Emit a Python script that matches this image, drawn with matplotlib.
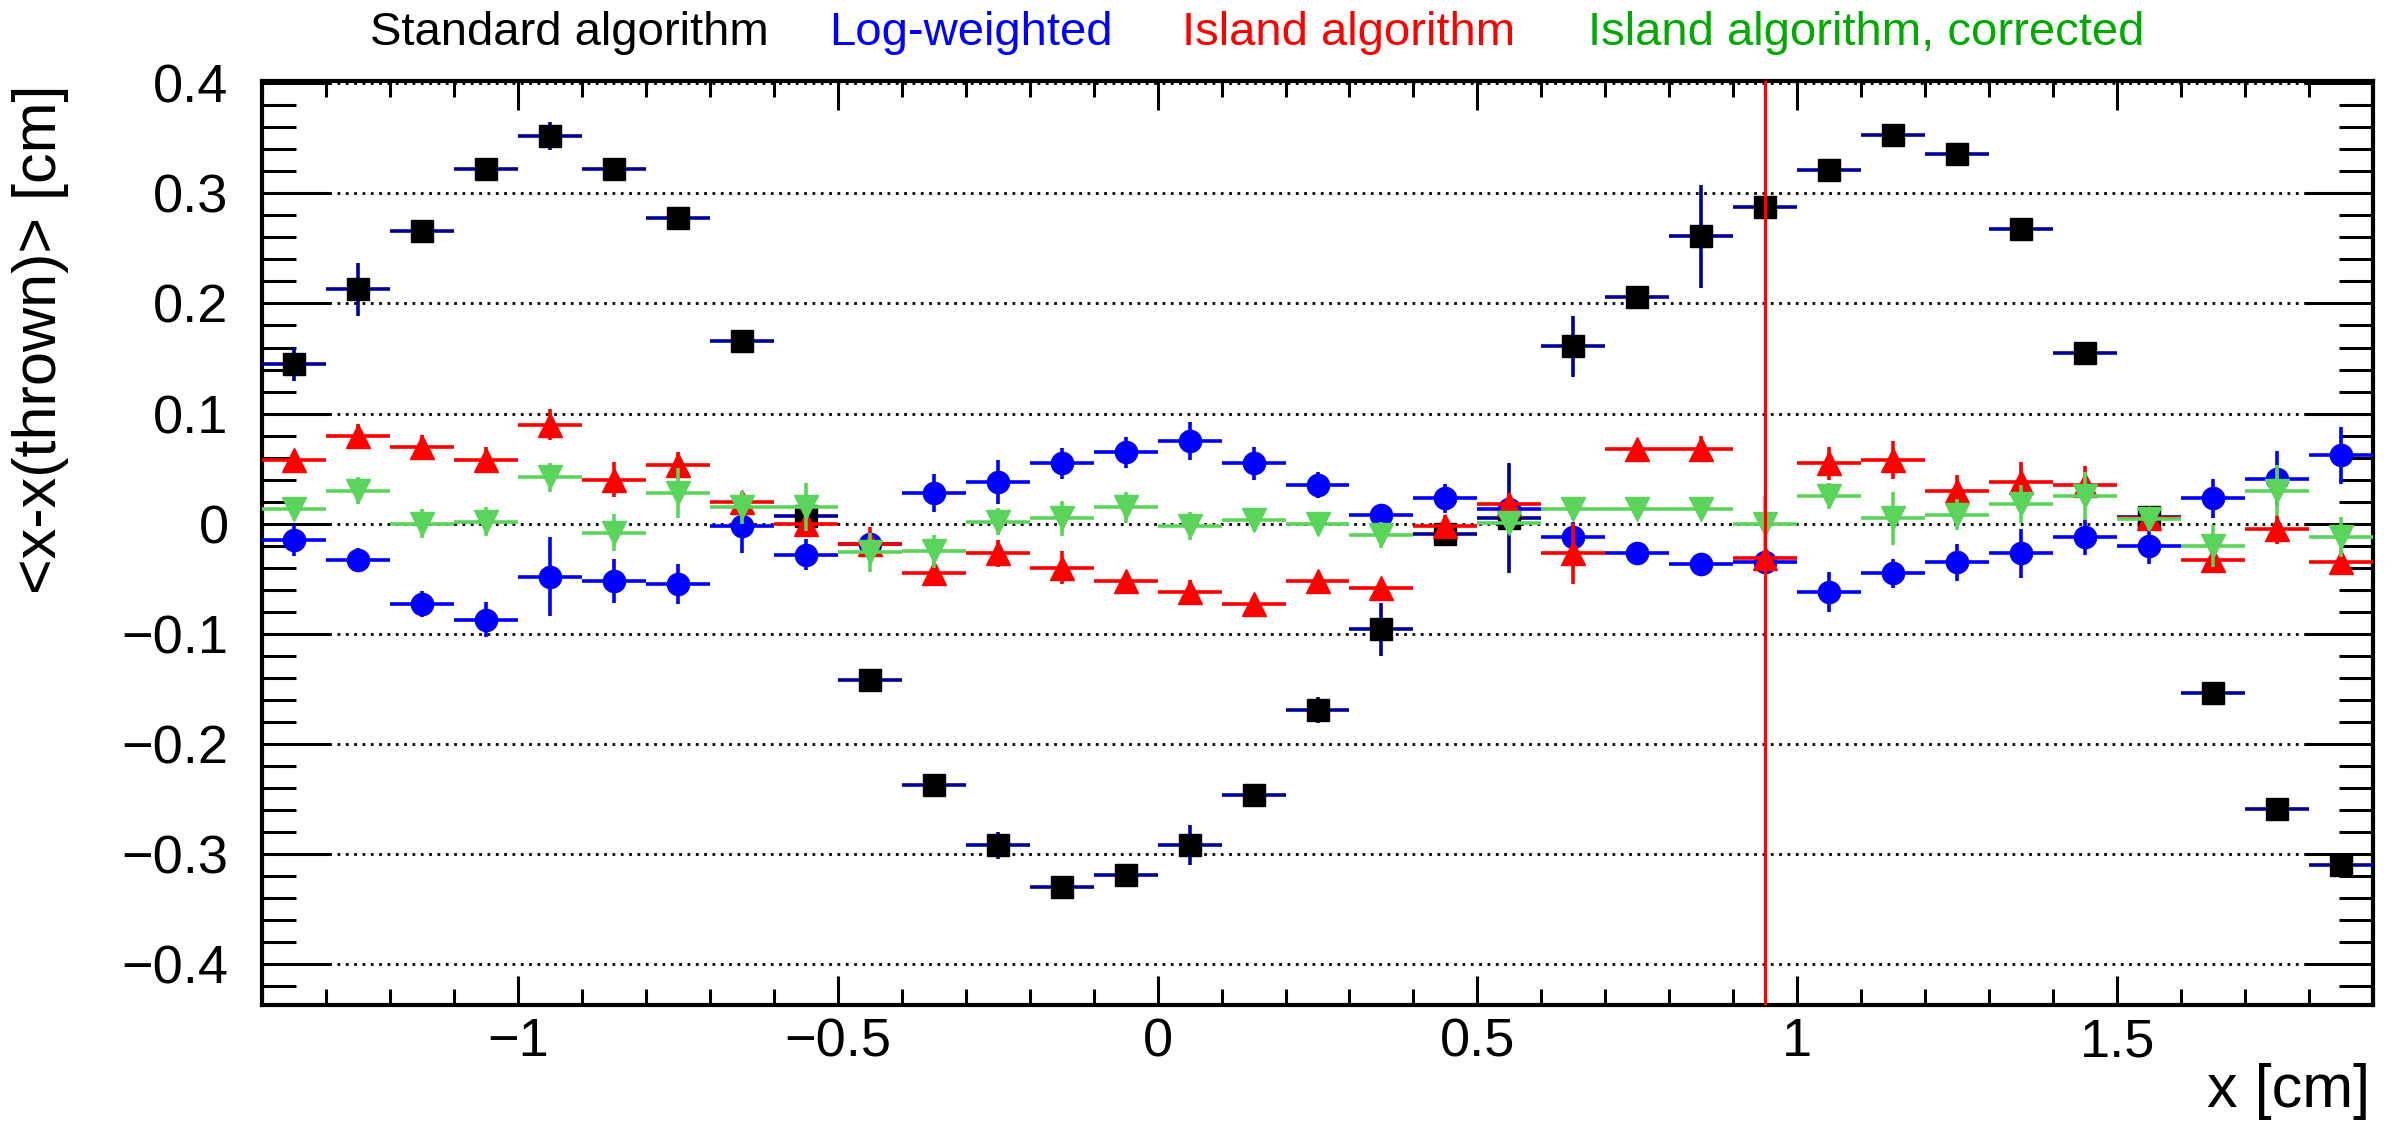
import numpy as np
import matplotlib
matplotlib.use('Agg')
import matplotlib.pyplot as plt
from matplotlib.ticker import MultipleLocator, FuncFormatter

plt.rcParams['font.family'] = ['Liberation Sans', 'DejaVu Sans']

# bin centres, bin half-width 0.05 cm
x = [-1.35, -1.25, -1.15, -1.05, -0.95, -0.85, -0.75, -0.65, -0.55, -0.45,
     -0.35, -0.25, -0.15, -0.05, 0.05, 0.15, 0.25, 0.35, 0.45, 0.55,
     0.65, 0.75, 0.85, 0.95, 1.05, 1.15, 1.25, 1.35, 1.45, 1.55,
     1.65, 1.75, 1.85]
x_halfwidth = 0.05

std_y = [0.145, 0.213, 0.266, 0.322, 0.352, 0.322, 0.278, 0.166, 0.007, -0.142,
         -0.237, -0.292, -0.330, -0.319, -0.292, -0.246, -0.169, -0.096, -0.009, 0.0055,
         0.161, 0.206, 0.261, 0.288, 0.321, 0.353, 0.336, 0.268, 0.155, 0.006,
         -0.154, -0.259, -0.310]
std_err = [0.015, 0.024, 0.006, 0.006, 0.013, 0.006, 0.006, 0.007, 0.008, 0.006,
           0.006, 0.012, 0.006, 0.006, 0.018, 0.006, 0.012, 0.024, 0.008, 0.050,
           0.028, 0.006, 0.047, 0.006, 0.007, 0.008, 0.008, 0.008, 0.006, 0.008,
           0.007, 0.007, 0.008]

log_y = [-0.015, -0.033, -0.073, -0.087, -0.048, -0.052, -0.055, -0.002, -0.028, -0.018,
         0.028, 0.038, 0.055, 0.065, 0.075, 0.055, 0.035, 0.008, 0.023, 0.013,
         -0.012, -0.027, -0.037, -0.035, -0.062, -0.045, -0.035, -0.027, -0.012, -0.020,
         0.023, 0.041, 0.062]
log_err = [0.014, 0.011, 0.012, 0.016, 0.036, 0.020, 0.018, 0.025, 0.014, 0.008,
           0.017, 0.020, 0.014, 0.014, 0.017, 0.015, 0.012, 0.010, 0.013, 0.010,
           0.014, 0.008, 0.010, 0.008, 0.018, 0.013, 0.017, 0.022, 0.016, 0.017,
           0.018, 0.025, 0.026]

isl_y = [0.058, 0.080, 0.070, 0.058, 0.090, 0.040, 0.053, 0.020, 0.000, -0.018,
         -0.045, -0.027, -0.040, -0.052, -0.062, -0.073, -0.052, -0.058, -0.002, 0.018,
         -0.027, 0.068, 0.068, -0.031, 0.055, 0.058, 0.030, 0.038, 0.035, 0.005,
         -0.033, -0.005, -0.035]
isl_err = [0.008, 0.011, 0.011, 0.012, 0.014, 0.016, 0.012, 0.010, 0.012, 0.015,
           0.011, 0.012, 0.015, 0.007, 0.011, 0.007, 0.007, 0.007, 0.010, 0.010,
           0.028, 0.007, 0.012, 0.006, 0.015, 0.017, 0.014, 0.018, 0.017, 0.010,
           0.012, 0.013, 0.011]

cor_y = [0.013, 0.030, 0.000, 0.002, 0.042, -0.008, 0.028, 0.015, 0.015, -0.026,
         -0.025, 0.002, 0.005, 0.015, -0.002, 0.003, 0.000, -0.010, np.nan, 0.001,
         0.013, 0.013, 0.013, 0.000, 0.025, 0.005, 0.008, 0.018, 0.025, 0.004,
         -0.020, 0.030, -0.012]
cor_err = [0.010, 0.012, 0.013, 0.013, 0.013, 0.017, 0.023, 0.015, 0.022, 0.018,
           0.015, 0.012, 0.016, 0.014, 0.013, 0.010, 0.010, 0.012, np.nan, 0.010,
           0.010, 0.008, 0.008, 0.025, 0.012, 0.024, 0.014, 0.017, 0.022, 0.010,
           0.019, 0.023, 0.018]

cut_x = 0.95

W, H = 2394, 1122
fig = plt.figure(figsize=(W / 100, H / 100), dpi=100)
ax = fig.add_axes([262 / W, 1 - 1005 / H, (2373 - 262) / W, (1005 - 81) / H])

series = [
    (std_y, std_err, 's', 'black', '#000099', 16),
    (log_y, log_err, 'o', '#0000ff', '#0000ff', 16),
    (isl_y, isl_err, '^', '#ff0000', '#ff0000', 17),
    (cor_y, cor_err, 'v', '#5ad45a', '#5ad45a', 17),
]
for i, (yv, ye, mk, mc, ec, ms) in enumerate(series):
    ax.errorbar(x, yv, xerr=x_halfwidth, yerr=ye, fmt=mk, ms=ms,
                mfc=mc, mec=mc, ecolor=ec, elinewidth=2.6, capsize=0,
                zorder=3 + i)

ax.axvline(cut_x, color='#ff0000', lw=2.2, zorder=10)

ax.set_xlim(-1.4, 1.9)
ax.set_ylim(-0.437, 0.402)

ax.xaxis.set_major_locator(MultipleLocator(0.5))
ax.xaxis.set_minor_locator(MultipleLocator(0.1))
ax.yaxis.set_major_locator(MultipleLocator(0.1))
ax.yaxis.set_minor_locator(MultipleLocator(0.02))

fmt = FuncFormatter(lambda v, p: ('%g' % round(v, 3)).replace('-', '\u2212'))
ax.xaxis.set_major_formatter(fmt)
ax.yaxis.set_major_formatter(fmt)

ax.tick_params(axis='both', which='both', direction='in', top=True, right=True,
               width=2.2, labelsize=39)
ax.tick_params(axis='x', which='major', length=21, pad=9)
ax.tick_params(axis='x', which='minor', length=11.5)
ax.tick_params(axis='y', which='major', length=49, pad=24)
ax.tick_params(axis='y', which='minor', length=24.5)
for sp in ax.spines.values():
    sp.set_linewidth(3)

ax.grid(axis='y', which='major', color='black', lw=2.0,
        linestyle=(0, (1, 2)), zorder=1)
ax.set_axisbelow(True)

fig.text(41 / W, 1 - 84 / H, '<x-x(thrown)> [cm]', rotation=90,
         ha='center', va='top', fontsize=44)
fig.text(2370 / W, 1 - 1092 / H, 'x [cm]', ha='right', va='center',
         fontsize=44)

titles = [('Standard algorithm', 'black', 370),
          ('Log-weighted', '#0000ff', 829),
          ('Island algorithm', '#ff0000', 1182),
          ('Island algorithm, corrected', '#00aa00', 1588)]
for txt, col, xp in titles:
    fig.text(xp / W, 1 - 45 / H, txt, color=col, ha='left', va='baseline',
             fontsize=34)

fig.savefig('out.png', dpi=100)
